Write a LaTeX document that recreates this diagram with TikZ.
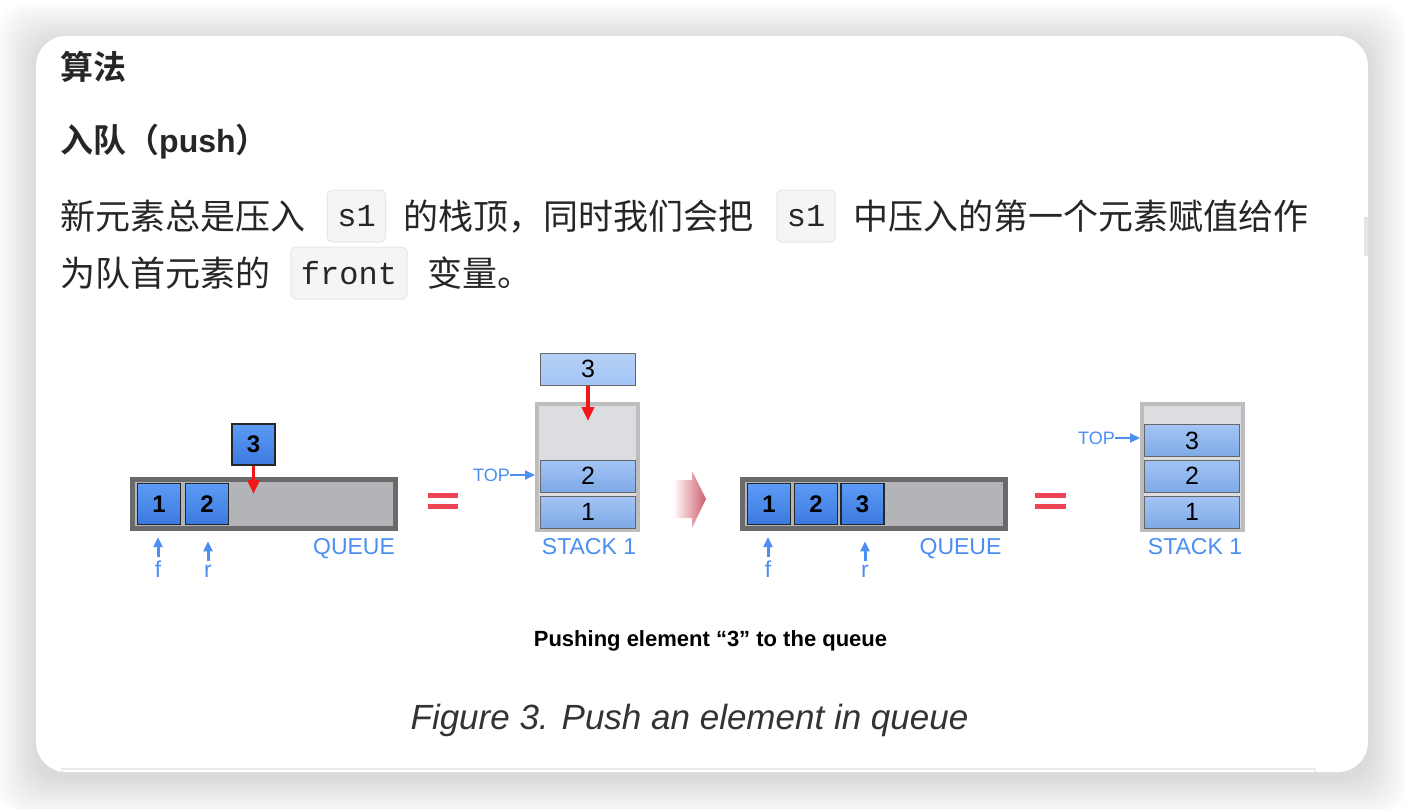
\documentclass[tikz,border=0pt]{standalone}
\usepackage{fontspec}
\setmainfont{Liberation Sans}
\setmonofont{Liberation Mono}
\newfontfamily\cjk[BoldFont={Noto Sans CJK SC Bold}]{Noto Sans CJK SC}
\usetikzlibrary{arrows.meta, positioning, calc}
\definecolor{inktext}{HTML}{262626}
\definecolor{codefill}{HTML}{F5F5F6}
\definecolor{codestroke}{HTML}{E6E6E8}
\definecolor{qbluetop}{HTML}{5C9BF7}
\definecolor{qbluebot}{HTML}{3C79DE}
\definecolor{sbluetop}{HTML}{A3C5F5}
\definecolor{sbluebot}{HTML}{7EA9E6}
\definecolor{labelblue}{HTML}{4C8EF2}
\definecolor{pushred}{HTML}{F01818}
\definecolor{eqred}{HTML}{EE4455}
\definecolor{qframe}{HTML}{6A6A6A}
\definecolor{qinner}{HTML}{B2B4B7}
\definecolor{sframe}{HTML}{BEBEBE}
\definecolor{sinner}{HTML}{DCDDE0}
\newcommand{\bodysize}{\fontsize{35}{40}\selectfont}

\begin{document}
\begin{tikzpicture}[
        x=1pt, y=-1pt,
        head/.style={anchor=base west, inner sep=0pt, text=inktext,
            font=\cjk\bfseries\fontsize{33}{38}\selectfont},
        body/.style={anchor=base west, inner sep=0pt, text=inktext,
            font=\cjk\bodysize},
        code/.style={
            rectangle,
            rounded corners=5pt,
            draw=codestroke,
            fill=codefill,
            line width=1pt,
            minimum height=52pt,
            inner xsep=10pt,
            text=inktext,
            font=\ttfamily\fontsize{32}{32}\selectfont
        },
        qbox/.style={
            rectangle,
            draw=black!85,
            line width=1.3pt,
            minimum width=43pt,
            minimum height=41pt,
            top color=qbluetop,
            bottom color=qbluebot,
            font=\bfseries\fontsize{24}{24}\selectfont
        },
        sbox/.style={
            rectangle,
            draw=black!60,
            line width=1pt,
            minimum width=95pt,
            minimum height=32pt,
            top color=sbluetop,
            bottom color=sbluebot,
            font=\fontsize{25}{25}\selectfont
        },
        qbar/.style={rectangle, draw=qframe, fill=qinner, line width=5pt,
            minimum width=263pt, minimum height=49pt},
        sbar/.style={rectangle, draw=sframe, fill=sinner, line width=4pt,
            minimum width=101pt, minimum height=126pt},
        tag/.style={text=labelblue, inner sep=0pt, font=\fontsize{23}{23}\selectfont},
        small/.style={text=labelblue, inner sep=0pt, font=\fontsize{18}{18}\selectfont},
        ptr/.style={-{Triangle[width=9pt,length=10pt]}, line width=3pt, draw=labelblue},
        drop/.style={-{Triangle[width=12pt,length=14pt]}, line width=3.5pt, draw=pushred},
        eq/.style={fill=eqred}
    ]
        % Page and card
        \useasboundingbox (0,0) rectangle (1404,808);
        \clip (0,0) rectangle (1404,808);
        \fill[white] (0,0) rectangle (1404,808);
        \foreach \i in {1,...,18}
            \fill[black, opacity=0.009, rounded corners=30pt]
                (36-2.2*\i,42-2.2*\i) rectangle (1368+2.2*\i,778+2.2*\i);
        \fill[white, rounded corners=30pt] (36,36) rectangle (1368,772);
        \draw[black!8, line width=1.5pt] (62,772) -- (62,769) -- (1315,769) -- (1315,772);
        \fill[black!10] (1364,217) rectangle (1368,256);

        % Text
        \node[head] (title) at (60,79) {算法};
        \node[head] (push) at (60,152) {入队（{\normalfont\bfseries\fontsize{32}{38}\selectfont push}）};

        \node[body] (l1a) at (60,229) {新元素总是压入};
        \node[code] (c1) at (356.5,216) {s1};
        \node[body] (l1b) at (403,229) {的栈顶，同时我们会把};
        \node[code] (c2) at (806,216) {s1};
        \node[body] (l1c) at (853,229) {中压入的第一个元素赋值给作};
        \node[body] (l2a) at (60,286) {为队首元素的};
        \node[code] (c3) at (349,273) {front};
        \node[body] (l2b) at (427,286) {变量。};

        % Queue before
        \node[qbar] (q1) at (264,504) {};
        \node[qbox] (q1one) at (159,504) {1};
        \node[qbox] (q1two) at (207,504) {2};
        \node[qbox] (q1new) at (253.5,444.5) {3};
        \coordinate (q1slot) at (253.5,494);
        \draw[drop] (q1new.south) -- (q1slot);
        \node[tag, anchor=base] (q1lbl) at (354,554) {QUEUE};
        \node[tag, anchor=base] (q1f) at (158,577) {f};
        \node[tag, anchor=base] (q1r) at (208,577) {r};
        \draw[ptr] (q1f.north) ++(0,-3) -- ++(0,-20);
        \draw[ptr] (q1r.north) ++(0,-3) -- ++(0,-20);

        \fill[eq] (428,493) rectangle (458,498);
        \fill[eq] (428,504) rectangle (458,509);

        % Stack before
        \node[sbar] (s1) at (587.5,467) {};
        \node[sbox] (s1two) at (588,476) {2};
        \node[sbox] (s1one) at (588,512) {1};
        \node[sbox, top color=sbluetop!80!white, bottom color=sbluetop] (s1new) at (588,369) {3};
        \coordinate (s1slot) at (588,421);
        \draw[drop] (s1new.south) -- (s1slot);
        \node[small, anchor=east] (top1) at (510,475) {TOP};
        \draw[ptr, line width=2pt] (top1.east) -- (s1.west |- top1.east);
        \node[tag, anchor=base] (s1lbl) at (589,554) {STACK 1};

        % Step arrow
        \shade[left color=red!4, right color={rgb,255:red,205;green,95;blue,110}]
            (675,480) -- (692,480) -- (692,471) -- (706,499) -- (692,528)
            -- (692,518) -- (675,518) -- cycle;

        % Queue after
        \node[qbar] (q2) at (873.5,504) {};
        \node[qbox] (q2one) at (769,504) {1};
        \node[qbox] (q2two) at (816,504) {2};
        \node[qbox] (q2three) at (862.5,504) {3};
        \node[tag, anchor=base] (q2lbl) at (960.5,554) {QUEUE};
        \node[tag, anchor=base] (q2f) at (768,577) {f};
        \node[tag, anchor=base] (q2r) at (865,577) {r};
        \draw[ptr] (q2f.north) ++(0,-3) -- ++(0,-20);
        \draw[ptr] (q2r.north) ++(0,-3) -- ++(0,-20);

        \fill[eq] (1035,493) rectangle (1066,498);
        \fill[eq] (1035,504) rectangle (1066,509);

        % Stack after
        \node[sbar] (s2) at (1192.5,467) {};
        \node[sbox] (s2three) at (1192,440.5) {3};
        \node[sbox] (s2two) at (1192,476) {2};
        \node[sbox] (s2one) at (1192,512) {1};
        \node[small, anchor=east] (top2) at (1115,438) {TOP};
        \draw[ptr, line width=2pt] (top2.east) -- (s2.west |- top2.east);
        \node[tag, anchor=base] (s2lbl) at (1195,554) {STACK 1};

        % Captions
        \node[inner sep=0pt, font=\bfseries\fontsize{22}{22}\selectfont] (cap) at (710.5,641) {Pushing element “3” to the queue};
        \node[inner sep=0pt, text=black!80, font=\itshape\fontsize{35}{35}\selectfont] (fig) at (689.5,720) {Figure 3. Push an element in queue};
    \end{tikzpicture}
\end{document}
